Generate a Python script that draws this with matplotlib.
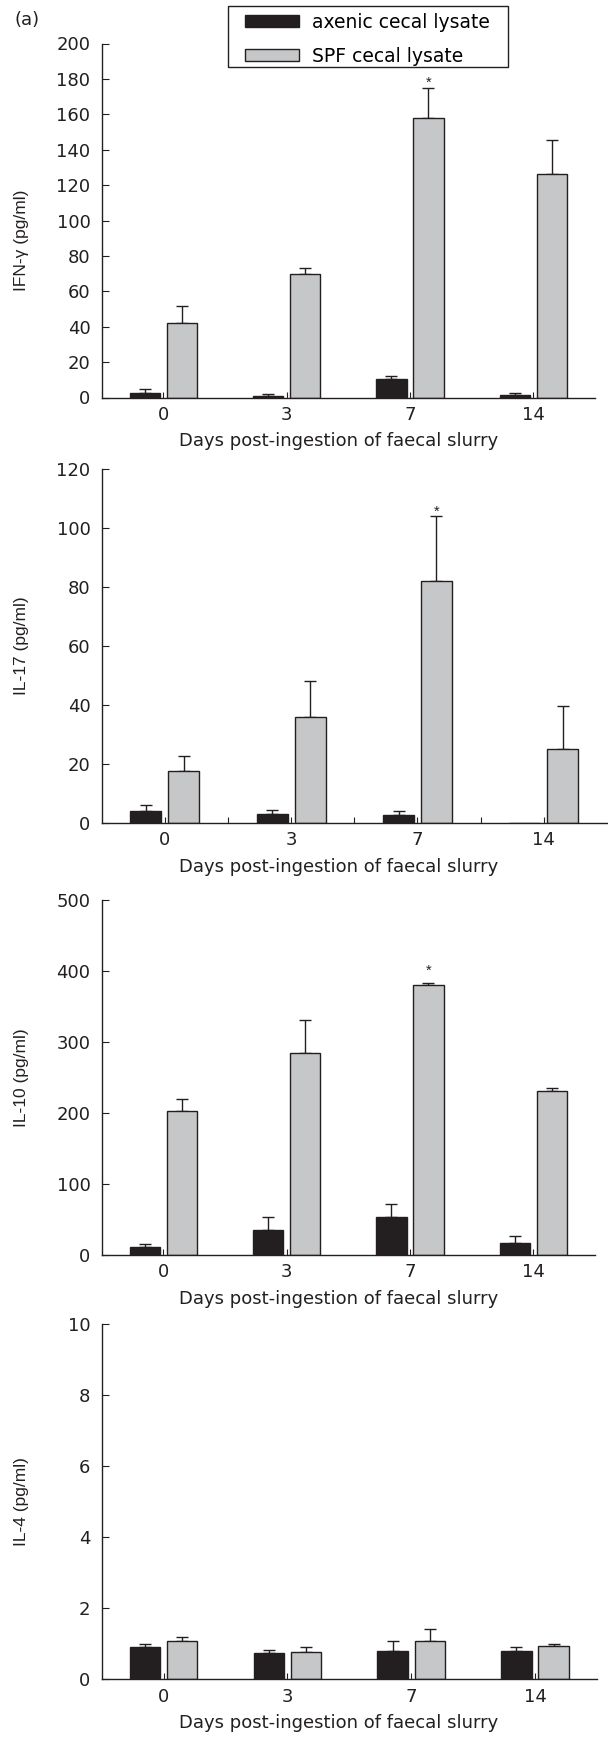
import numpy as np
import matplotlib
matplotlib.use('Agg')
import matplotlib.pyplot as plt
from matplotlib.patches import Rectangle

plt.rcParams['font.family'] = ['DejaVu Sans']

days = ['0', '3', '7', '14']
series_names = ['axenic cecal lysate', 'SPF cecal lysate']

# IFN-gamma
ifn_axenic = [2.8, 1.0, 10.3, 1.5]
ifn_axenic_err = [1.9, 0.7, 1.6, 1.3]
ifn_spf = [42.0, 69.6, 158.0, 126.0]
ifn_spf_err = [9.5, 3.4, 16.6, 19.6]

# IL-17
il17_axenic = [4.0, 3.2, 2.7, 0.0]
il17_axenic_err = [2.0, 1.1, 1.5, 0.0]
il17_spf = [17.5, 35.8, 82.2, 25.2]
il17_spf_err = [5.3, 12.5, 22.0, 14.4]

# IL-10
il10_axenic = [11.7, 35.2, 54.0, 16.4]
il10_axenic_err = [4.3, 18.8, 17.4, 10.8]
il10_spf = [202.3, 284.0, 380.0, 230.5]
il10_spf_err = [17.7, 47.0, 3.6, 5.2]

# IL-4
il4_axenic = [0.92, 0.75, 0.81, 0.81]
il4_axenic_err = [0.07, 0.08, 0.26, 0.11]
il4_spf = [1.09, 0.77, 1.07, 0.94]
il4_spf_err = [0.11, 0.13, 0.36, 0.05]

panels = [
    dict(label='IFN-\u03b3 (pg/ml)', ymax=200, step=20, star=175.5, label_y=0.445,
         ax_vals=ifn_axenic, ax_err=ifn_axenic_err, spf_vals=ifn_spf, spf_err=ifn_spf_err,
         box=(101.6, 43.5, 595, 397.5), minor=False),
    dict(label='IL-17 (pg/ml)', ymax=120, step=20, star=104.2, label_y=0.5,
         ax_vals=il17_axenic, ax_err=il17_axenic_err, spf_vals=il17_spf, spf_err=il17_spf_err,
         box=(101.6, 469, 607, 823), minor=True),
    dict(label='IL-10 (pg/ml)', ymax=500, step=100, star=395, label_y=0.5,
         ax_vals=il10_axenic, ax_err=il10_axenic_err, spf_vals=il10_spf, spf_err=il10_spf_err,
         box=(101.6, 900, 595, 1255), minor=False),
    dict(label='IL-4 (pg/ml)', ymax=10, step=2, star=None, label_y=0.5,
         ax_vals=il4_axenic, ax_err=il4_axenic_err, spf_vals=il4_spf, spf_err=il4_spf_err,
         box=(101.6, 1324.3, 597, 1679.3), minor=False),
]

W, H = 608, 1737
dark = '#231f20'
grey = '#c6c7c9'
fig = plt.figure(figsize=(W / 100, H / 100), dpi=100)

x = np.arange(len(days))
off = 0.15
bw = 0.245
handles = None
for p in panels:
    l, t, r, b = p['box']
    ax = fig.add_axes([l / W, 1 - b / H, (r - l) / W, (b - t) / H])
    b1 = ax.bar(x - off, p['ax_vals'], bw, color=dark, edgecolor=dark, linewidth=1, zorder=2)
    b2 = ax.bar(x + off, p['spf_vals'], bw, color=grey, edgecolor=dark, linewidth=1, zorder=2)
    if handles is None:
        handles = [b1, b2]
    for xs, v, e in [(x - off, p['ax_vals'], p['ax_err']), (x + off, p['spf_vals'], p['spf_err'])]:
        v = np.array(v)
        e = np.array(e)
        m = v > 0
        ax.errorbar(xs[m], v[m], yerr=[np.zeros(m.sum()), e[m]], fmt='none',
                    ecolor=dark, elinewidth=1, capsize=4, capthick=1, zorder=1)
    if p['star'] is not None:
        ax.text(2 + off, p['star'], '*', ha='center', va='baseline', fontsize=10.5, color=dark,
                family=['Liberation Sans'])
    ax.set_xlim(-0.5, 3.5)
    ax.set_ylim(0, p['ymax'])
    ax.set_yticks(np.arange(0, p['ymax'] + 0.001, p['step']))
    ax.set_xticks(x)
    ax.set_xticklabels(days)
    if p['minor']:
        ax.set_xticks([0.5, 1.5, 2.5], minor=True)
    ax.spines['top'].set_visible(False)
    ax.spines['right'].set_visible(False)
    for s in ['left', 'bottom']:
        ax.spines[s].set_linewidth(1.0)
        ax.spines[s].set_color(dark)
    ax.tick_params(axis='x', which='both', direction='in', length=4.3, width=0.8,
                   pad=6, labelsize=13, colors=dark)
    ax.tick_params(axis='y', direction='in', length=5, width=0.8, pad=8,
                   labelsize=13, colors=dark)
    ax.set_ylabel(p['label'], fontsize=12.5, color=dark, family=['Liberation Sans', 'DejaVu Sans'])
    ax.yaxis.set_label_coords((29 - l) / (r - l), p['label_y'])
    ax.set_xlabel('Days post-ingestion of faecal slurry', fontsize=13, color=dark)
    ax.xaxis.set_label_coords((339 - l) / (r - l), -35 / (b - t))

fig.legend(handles, series_names, loc='upper left', bbox_to_anchor=(245 / W, 1 - 12.5 / H),
           fontsize=13.5, frameon=False, handlelength=2.86, handleheight=0.57,
           handletextpad=0.71, labelspacing=0.82, borderpad=0, borderaxespad=0)
fig.add_artist(Rectangle((228.3 / W, 1 - 66.7 / H), (508.3 - 228.3) / W, (66.7 - 6) / H,
                         transform=fig.transFigure, fill=False, edgecolor=dark, linewidth=1))
fig.text(15 / W, 1 - 20 / H, '(a)', fontsize=13, va='center', ha='left', color=dark)

fig.savefig('out.png', dpi=100)
